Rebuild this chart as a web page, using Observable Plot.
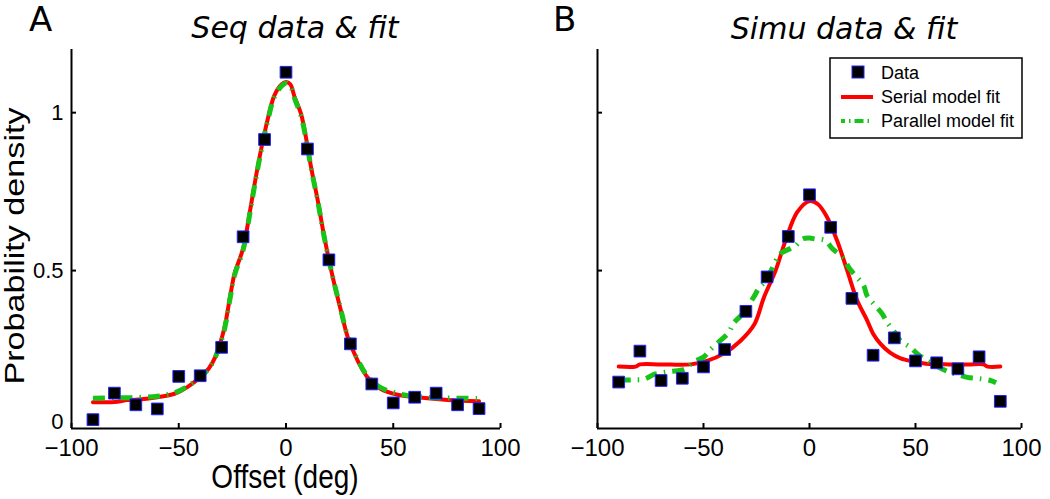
<!DOCTYPE html>
<html><head><meta charset="utf-8">
<script src="https://cdn.jsdelivr.net/npm/d3@7"></script>
<script src="https://cdn.jsdelivr.net/npm/@observablehq/plot@0.6"></script>
<style>
body{margin:0;background:#fff;}
#wrap{position:relative;width:1050px;height:499px;overflow:hidden;background:#fff;}
#wrap svg{position:absolute;top:0;}
</style></head><body><div id="wrap"></div>
<script>
// ---- data ----
const offsets = [-90,-80,-70,-60,-50,-40,-30,-20,-10,0,10,20,30,40,50,60,70,80,90];
const seqData = [0.028,0.112,0.075,0.062,0.165,0.167,0.257,0.607,0.915,1.128,0.885,0.534,0.268,0.141,0.081,0.099,0.112,0.075,0.063];
const simuData = [0.147,0.245,0.152,0.159,0.195,0.25,0.371,0.48,0.608,0.74,0.637,0.412,0.232,0.287,0.214,0.208,0.189,0.227,0.086];

const seqSerialX = [-90,-80,-74,-70,-60,-52,-46,-40,-36,-33,-29,-26,-24,-20,-17,-15,-12,-8.5,-5.4,-2,0,2,4,7,9.3,11.7,14.8,17.9,21.8,25.6,28.8,33.4,38,44,52,61,74,82,90];
const seqSerialY = [0.083,0.084,0.09,0.091,0.099,0.11,0.131,0.162,0.19,0.226,0.31,0.42,0.49,0.57,0.68,0.76,0.87,0.98,1.055,1.09,1.097,1.09,1.05,0.996,0.922,0.827,0.722,0.605,0.479,0.373,0.289,0.215,0.162,0.126,0.107,0.099,0.091,0.088,0.086];
const seqParX = [-90,-80,-70,-60,-52,-46,-40,-36,-33,-29,-26,-24,-20,-17,-15,-12,-8.5,-5.4,-2,0,2,4,7,9.3,11.7,14.8,17.9,21.8,25.6,28.8,33.4,38,44,52,61,70,80,90];
const seqParY = [0.096,0.097,0.098,0.102,0.113,0.133,0.163,0.19,0.225,0.305,0.415,0.485,0.565,0.675,0.755,0.865,0.975,1.05,1.085,1.093,1.085,1.045,0.99,0.918,0.825,0.72,0.603,0.48,0.375,0.292,0.218,0.166,0.13,0.111,0.101,0.097,0.096,0.095];

const simuSerialX = [-90,-82,-80,-70,-56,-48,-40.5,-32.5,-26,-21.5,-16,-11.3,-5.8,0,4,8.3,13,17.8,22.5,27,30,33.5,38,43,49,55,66,75,82,84,90];
const simuSerialY = [0.196,0.196,0.203,0.203,0.203,0.215,0.237,0.278,0.33,0.415,0.5,0.595,0.685,0.72,0.71,0.669,0.595,0.5,0.405,0.345,0.3,0.268,0.24,0.222,0.212,0.205,0.203,0.203,0.203,0.196,0.196];
const simuParX = [-90,-84,-78,-73,-66,-58.5,-55,-50,-46.7,-43,-38,-36,-32,-26.4,-24,-20.7,-15,-13.7,-9,-6.6,-3.4,0,2.8,7.5,10.7,16.2,18.5,21.7,25.5,27.2,30.2,34.3,36.6,39.6,42.9,47.6,50.8,56,65,69.7,74.4,80,85.4,88];
const simuParY = [0.152,0.154,0.156,0.172,0.18,0.189,0.21,0.226,0.25,0.273,0.305,0.332,0.36,0.415,0.443,0.468,0.542,0.554,0.57,0.579,0.6,0.603,0.6,0.595,0.57,0.538,0.51,0.484,0.453,0.42,0.395,0.363,0.336,0.31,0.278,0.257,0.237,0.213,0.181,0.171,0.162,0.158,0.152,0.145];

const xTicks = [-100,-50,0,50,100];
const yTicks = [0,0.5,1];
const yTickLabels = ["0","0.5","1"];
const titles = ["Seq data & fit","Simu data & fit"];
const panelLetters = ["A","B"];
const xLabel = "Offset (deg)";
const yLabel = "Probability density";
const legendLabels = ["Data","Serial model fit","Parallel model fit"];

// ---- styles ----
const RED = "#ff0000", GREEN = "#19c419", EDGE = "#2222ff";
const DASH = "12,7,1.5,7";
const wrap = document.getElementById("wrap");

function panel(data, sx, sy, px, py, left, width, mL, mR, showY) {
  const pts = offsets.map((x, i) => ({x, y: data[i]}));
  const ser = sx.map((x, i) => ({x, y: sy[i]}));
  const par = px.map((x, i) => ({x, y: py[i]}));
  const fmt = (d) => showY ? yTickLabels[yTicks.indexOf(d)] : "";
  const svg = Plot.plot({
    width, height: 499,
    marginLeft: mL, marginRight: mR, marginTop: 49, marginBottom: 71,
    style: {background: "transparent", fontFamily: "'Liberation Sans', Arial, sans-serif", fontSize: "24px", overflow: "visible"},
    x: {domain: [-100, 100]},
    y: {domain: [0, 1.2]},
    marks: [
      Plot.line(ser, {x: "x", y: "y", stroke: RED, strokeWidth: 4, curve: "catmull-rom"}),
      Plot.line(par, {x: "x", y: "y", stroke: GREEN, strokeWidth: 5, strokeDasharray: DASH, strokeLinecap: "butt", curve: "catmull-rom"}),
      Plot.dot(pts, {x: "x", y: "y", symbol: "square", r: 6.6, fill: "black", stroke: EDGE, strokeWidth: 1}),
      Plot.ruleY([0], {stroke: "black", strokeWidth: 2}),
      Plot.ruleX([-100], {stroke: "black", strokeWidth: 2}),
      Plot.axisX({ticks: xTicks, tickSize: -5, tickPadding: 15, fontSize: 24, strokeWidth: 2, label: null}),
      Plot.axisY({ticks: yTicks.slice(1), tickSize: -5, tickPadding: 13, fontSize: 22, strokeWidth: 2, label: null, tickFormat: fmt}),
      Plot.axisY({ticks: yTicks.slice(0, 1), tickSize: 0, tickPadding: 8, dy: -7, fontSize: 22, label: null, tickFormat: fmt})
    ]
  });
  svg.style.left = left + "px";
  wrap.appendChild(svg);
}

panel(seqData, seqSerialX, seqSerialY, seqParX, seqParY, 0, 520, 71, 20, true);
panel(simuData, simuSerialX, simuSerialY, simuParX, simuParY, 525, 525, 72, 29, false);

// ---- overlay text & legend ----
const NS = "http://www.w3.org/2000/svg";
const ov = document.createElementNS(NS, "svg");
ov.setAttribute("width", 1050); ov.setAttribute("height", 499);
ov.style.left = "0px";
wrap.appendChild(ov);
function el(tag, attrs, text) {
  const e = document.createElementNS(NS, tag);
  for (const k in attrs) e.setAttribute(k, attrs[k]);
  if (text != null) e.textContent = text;
  ov.appendChild(e);
  return e;
}
const SANS = "'Liberation Sans', Arial, sans-serif";
el("text", {x: 29, y: 31, "font-family": "DejaVu Sans", "font-size": 34}, panelLetters[0]);
el("text", {x: 553, y: 31, "font-family": "DejaVu Sans", "font-size": 34}, panelLetters[1]);
el("text", {x: 295, y: 38, "font-family": "DejaVu Sans", "font-style": "italic", "font-size": 30, "text-anchor": "middle"}, titles[0]);
el("text", {x: 844, y: 39, "font-family": "DejaVu Sans", "font-style": "italic", "font-size": 30, "text-anchor": "middle"}, titles[1]);
el("text", {transform: "translate(285,488) scale(1,1.18)", "font-family": SANS, "font-size": 28, "text-anchor": "middle"}, xLabel);
el("text", {transform: "translate(24,246) rotate(-90) scale(1.22,1)", "font-family": SANS, "font-size": 28, "text-anchor": "middle"}, yLabel);

// legend
el("rect", {x: 830, y: 58, width: 192, height: 80, fill: "white", stroke: "black", "stroke-width": 1.5});
el("rect", {x: 852, y: 66, width: 12, height: 12, fill: "black", stroke: EDGE, "stroke-width": 1});
el("line", {x1: 841, x2: 873, y1: 97, y2: 97, stroke: RED, "stroke-width": 4});
el("line", {x1: 841, x2: 873, y1: 121, y2: 121, stroke: GREEN, "stroke-width": 4, "stroke-dasharray": "9,4,1.5,4", "stroke-dashoffset": 5});
const ly = [79, 103, 127];
legendLabels.forEach((t, i) => el("text", {x: 881, y: ly[i], "font-family": SANS, "font-size": 18}, t));
</script></body></html>
